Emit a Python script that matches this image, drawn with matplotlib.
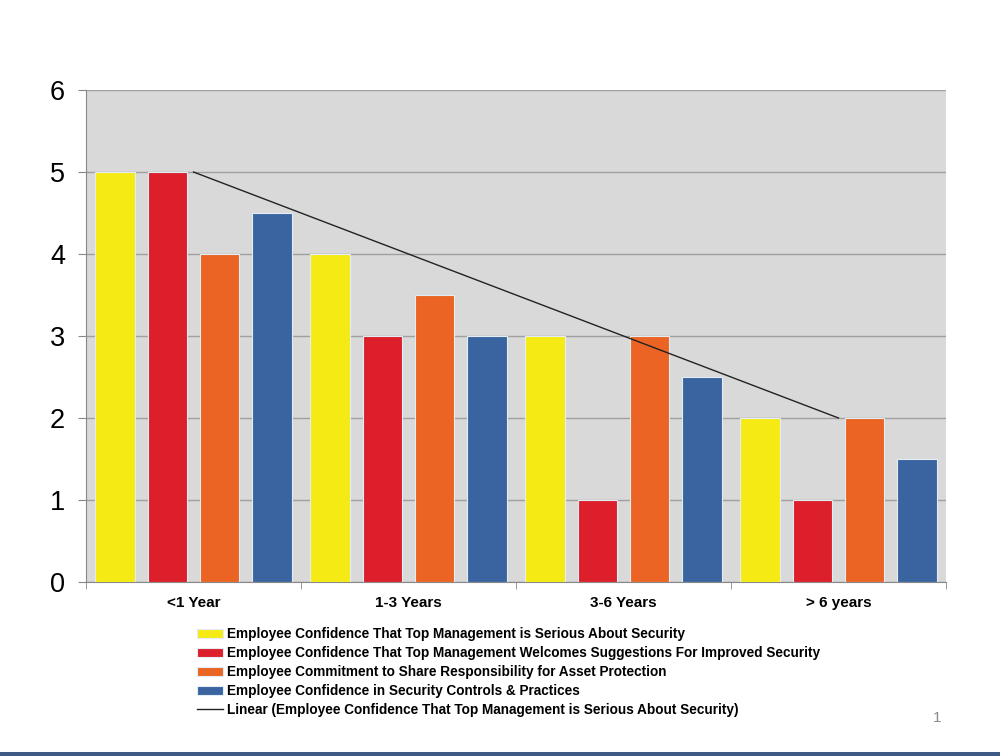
import numpy as np
import matplotlib.pyplot as plt
from matplotlib.patches import Rectangle

plt.rcParams['font.family'] = ['Liberation Sans', 'DejaVu Sans']

categories = ['<1 Year', '1-3 Years', '3-6 Years', '> 6 years']
series_names = [
    'Employee Confidence That Top Management is Serious About Security',
    'Employee Confidence That Top Management Welcomes Suggestions For Improved Security',
    'Employee Commitment to Share Responsibility for Asset Protection',
    'Employee Confidence in Security Controls & Practices',
]
serious = [5, 4, 3, 2]
welcomes = [5, 3, 1, 1]
commitment = [4, 3.5, 3, 2]
controls = [4.5, 3, 2.5, 1.5]
colors = ['#F5EA14', '#DC1F2A', '#EB6423', '#3A64A0']
trend_label = 'Linear (Employee Confidence That Top Management is Serious About Security)'

fig = plt.figure(figsize=(10, 7.56), dpi=100)
ax = fig.add_axes([0.086, 1 - 582 / 756, 0.86, 492 / 756])
ax.set_facecolor('#D9D9D9')

x = np.arange(len(categories))
step = 0.2419
width = 0.186
for i, (vals, name, c) in enumerate(zip([serious, welcomes, commitment, controls], series_names, colors)):
    ax.bar(x + (i - 1.5) * step, vals, width, color=c, edgecolor='#E4ECF4', linewidth=0.8,
           label=name, zorder=3)

# linear trendline of the first series
coef = np.polyfit(x, serious, 1)
ax.plot(x, np.polyval(coef, x), color='#222222', linewidth=1, label=trend_label, zorder=4)

ax.set_xlim(-0.5, 3.5)
ax.set_ylim(0, 6)
ax.set_yticks(range(7))
ax.yaxis.grid(True, color='#A0A0A0', linewidth=1, zorder=0)
ax.set_axisbelow(True)
ax.set_xticks(x)
ax.set_xticklabels(categories, fontsize=11, fontweight='bold')
ax.set_xticks(np.arange(-0.5, 4, 1), minor=True)
ax.tick_params(axis='x', which='major', length=0, pad=10)
ax.tick_params(axis='x', which='minor', length=5, color='#888888')
ax.tick_params(axis='y', labelsize=19.5, length=6, color='#888888', pad=9)
for s in ['top', 'right']:
    ax.spines[s].set_visible(False)
for s in ['left', 'bottom']:
    ax.spines[s].set_color('#888888')

handles, labels = ax.get_legend_handles_labels()
order = [1, 2, 3, 4, 0]
leg = fig.legend([handles[k] for k in order], [labels[k] for k in order],
                 loc='upper left', bbox_to_anchor=(0.192, 1 - 622 / 756), frameon=False,
                 prop={'size': 9.8, 'weight': 'bold'}, handlelength=1.85, handleheight=0.6,
                 handletextpad=0.35, labelspacing=0.36, borderaxespad=0)

fig.text(0.937, 1 - 718 / 756, '1', fontsize=11, color='#8C8C8C', ha='center', va='center')
fig.patches.append(Rectangle((0, 0), 1, 4 / 756, transform=fig.transFigure,
                             facecolor='#3F5A85', edgecolor='none'))

fig.savefig('out.png', dpi=100)
